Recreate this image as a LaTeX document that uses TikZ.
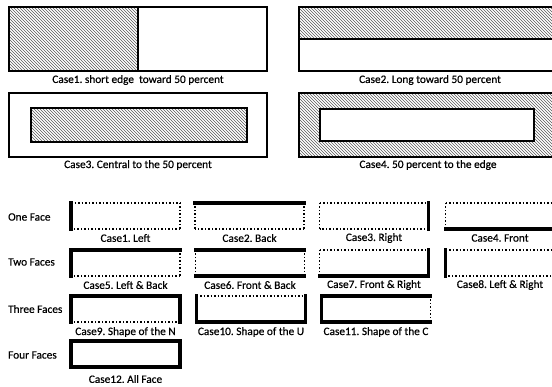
\documentclass[tikz,border=0pt]{standalone}
\usepackage{fontspec}
\setmainfont{Carlito}[BoldFont={Carlito}, BoldFeatures={FakeBold=0.45}]
\usetikzlibrary{patterns}
\frenchspacing
\newcommand\caseface[8]{%
  \node[face] (#1) at (#2) {};
  \draw[#3] (#1.south west) -- (#1.north west);
  \draw[#4] (#1.north west) -- (#1.north east);
  \draw[#5] (#1.north east) -- (#1.south east);
  \draw[#6] (#1.south east) -- (#1.south west);
  \node[lbl] (#1l) at ([yshift=-#8]#1.south) {#7};
}
\begin{document}
\begin{tikzpicture}[x=1pt,y=-1pt,
  frame/.style={draw, line width=1.4pt, inner sep=0pt, outer sep=0pt},
  hatch/.style={pattern=north west lines, pattern color=black!65},
  lbl/.style={font=\fontsize{11.3}{13}\selectfont\bfseries, inner sep=0pt},
  face/.style={inner sep=0pt, outer sep=0pt, minimum width=109pt, minimum height=26pt},
  thk/.style={line width=3.5pt, line cap=rect},
  dot/.style={line width=1.3pt, dash pattern=on 1.5pt off 2pt},
]
\path[use as bounding box, clip] (0,0) rectangle (552,387);
% top cases
\fill[hatch] (9,7) rectangle (138,71);
\node[frame, anchor=north west, minimum width=258pt, minimum height=64pt] (c1) at (9,7) {};
\draw[line width=1.4pt] (c1.north) -- (c1.south);
\node[lbl] (t1) at (138,80) {Case1. short edge\ \ toward 50 percent};

\fill[hatch] (299,7) rectangle (561,39);
\node[frame, anchor=north west, minimum width=262pt, minimum height=64pt] (c2) at (299,7) {};
\draw[line width=1.4pt] (c2.west) -- (c2.east);
\node[lbl] (t2) at (430,80) {Case2. Long toward 50 percent};

\node[frame, anchor=north west, minimum width=258pt, minimum height=64pt] (c3) at (9,93) {};
\node[frame, hatch, anchor=north west, minimum width=216pt, minimum height=34pt] (c3i) at (31,108) {};
\node[lbl] (t3) at (138,165) {Case3. Central to the 50 percent};

\node[frame, hatch, anchor=north west, minimum width=262pt, minimum height=64pt] (c4) at (299,93) {};
\node[frame, fill=white, anchor=north west, minimum width=214pt, minimum height=32pt] (c4i) at (320,109) {};
\node[lbl] (t4) at (428,165) {Case4. 50 percent to the edge};

% row labels
\node[lbl, anchor=west] (r1) at (8,217) {One Face};
\node[lbl, anchor=west] (r2) at (8,262) {Two Faces};
\node[lbl, anchor=west] (r3) at (8,309) {Three Faces};
\node[lbl, anchor=west] (r4) at (8,355) {Four Faces};

% faces
\caseface{f1}{125.5,216}{thk}{dot}{dot}{dot}{Case1. Left}{9pt}
\caseface{f2}{249.5,216}{dot}{thk}{dot}{dot}{Case2. Back}{9pt}
\caseface{f3}{374,216}{dot}{dot}{thk}{dot}{Case3. Right}{9pt}
\caseface{f4}{500,216}{dot}{dot}{dot}{thk}{Case4. Front}{9pt}

\caseface{f5}{125.5,263}{thk}{thk}{dot}{dot}{Case5. Left \& Back}{9pt}
\caseface{f6}{250,263}{dot}{thk}{dot}{thk}{Case6. Front \& Back}{9pt}
\caseface{f7}{374,263}{dot}{dot}{thk}{thk}{Case7. Front \& Right}{9pt}
\caseface{f8}{500,263}{thk}{dot}{thk}{dot}{Case8. Left \& Right}{9pt}

\caseface{f9}{125.5,309}{thk}{thk}{thk}{dot}{Case9. Shape of the N}{10pt}
\caseface{f10}{251,309}{thk}{dot}{thk}{thk}{Case10. Shape of the U}{10pt}
\caseface{f11}{376,309}{thk}{thk}{dot}{thk}{Case11. Shape of the C}{10pt}

\caseface{f12}{125.5,354}{thk}{thk}{thk}{thk}{Case12. All Face}{12pt}
\end{tikzpicture}
\end{document}
